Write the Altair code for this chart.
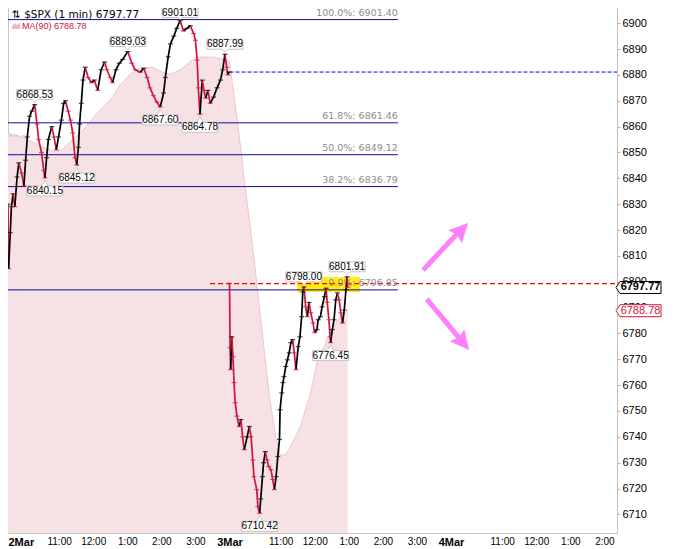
import altair as alt
import pandas as pd

# ---------------- data ----------------
D1_TIMES = ["09:30","09:31","09:34","09:36","09:39","09:42","09:46","09:49","09:54","09:58",
            "10:01","10:04","10:08","10:12","10:17","10:21","10:24","10:29","10:33","10:35",
            "10:38","10:41","10:47","10:51","10:55","10:59","11:04","11:08","11:11","11:16",
            "11:20","11:24","11:28","11:31","11:34","11:36","11:39","11:42","11:46","11:51",
            "11:57","12:02","12:08","12:14","12:20","12:24","12:30","12:34","12:40","12:46",
            "12:52","13:01","13:08","13:14","13:23","13:29","13:35","13:40","13:46","13:52",
            "13:58","14:04","14:07","14:12","14:16","14:22","14:27","14:33","14:39","14:45",
            "14:51","14:57","15:00","15:03","15:05","15:08","15:12","15:15","15:18","15:22",
            "15:26","15:32","15:38","15:44","15:48","15:52","15:55","15:57","15:59"]
D1_PRICES = [6830.0,6805.0,6819.0,6829.0,6834.0,6829.0,6840.5,6846.0,6842.0,6837.0,
             6847.0,6856.0,6864.0,6866.0,6868.53,6861.0,6855.0,6850.0,6843.0,6840.15,
             6848.0,6855.0,6860.0,6856.0,6851.0,6856.0,6862.5,6869.0,6870.0,6866.0,
             6862.5,6857.5,6848.0,6845.12,6852.0,6861.0,6869.0,6878.0,6883.0,6879.0,
             6877.0,6878.0,6874.0,6882.0,6885.0,6882.0,6879.0,6877.0,6882.0,6884.5,
             6886.0,6889.03,6884.5,6882.0,6881.0,6882.6,6879.0,6875.0,6872.0,6869.5,
             6867.60,6873.0,6879.0,6887.0,6892.0,6895.0,6898.0,6901.01,6897.0,6898.0,
             6899.0,6896.0,6893.4,6885.7,6875.0,6864.78,6878.0,6874.0,6871.0,6874.0,
             6869.0,6871.4,6875.0,6878.0,6882.0,6887.99,6883.0,6880.0,6881.1]

D2_TIMES = ["09:30","09:31","09:32","09:34","09:36","09:38","09:40","09:43","09:47","09:50",
            "09:53","09:56","10:01","10:05","10:08","10:11","10:13","10:18","10:20","10:23",
            "10:25","10:28","10:30","10:33","10:36","10:39","10:43","10:46","10:49","10:52",
            "10:55","10:58","10:59","11:02","11:04","11:06","11:09","11:12","11:15","11:18",
            "11:21","11:24","11:27","11:31","11:34","11:37","11:39","11:41","11:44","11:47",
            "11:50","11:53","11:57","12:00","12:04","12:06","12:10","12:13","12:17","12:20",
            "12:22","12:25","12:27","12:28","12:31","12:34","12:37","12:40","12:43","12:46",
            "12:49","12:52","12:55","12:57","12:58"]
D2_PRICES = [6799.4,6774.5,6766.0,6778.7,6771.0,6761.0,6753.2,6748.0,6744.0,6746.7,
             6740.0,6735.0,6740.0,6744.0,6740.0,6731.0,6724.6,6719.6,6713.0,6710.42,
             6716.0,6724.6,6730.0,6734.3,6731.0,6728.5,6727.3,6723.5,6719.6,6724.6,
             6732.4,6739.0,6750.5,6757.0,6761.0,6763.3,6767.2,6769.8,6772.5,6776.4,
             6777.6,6772.5,6766.0,6774.9,6778.7,6786.5,6796.0,6798.00,6790.3,6786.5,
             6792.0,6788.0,6784.0,6780.3,6781.5,6785.3,6786.5,6790.3,6794.2,6797.5,
             6792.0,6785.3,6778.7,6776.45,6781.5,6785.3,6793.0,6795.7,6793.0,6788.0,
             6784.0,6789.0,6796.9,6801.91,6797.77]

MA_D1_TIMES = ["09:30","10:00","10:26","10:53","11:05","11:19","11:37","11:54","12:12","12:30",
               "12:47","13:05","13:22","13:45","14:01","14:15","14:33","14:50","15:03","15:31",
               "15:55","15:59"]
MA_D1_VALUES = [6857.5,6855.6,6852.5,6850.2,6851.0,6854.0,6857.5,6861.8,6866.4,6870.3,
                6876.0,6880.3,6882.6,6883.0,6881.0,6880.3,6881.8,6885.0,6886.9,6886.9,
                6885.7,6885.5]
MA_D2_TIMES = ["09:30","09:36","09:48","09:57","10:06","10:15","10:27","10:41","10:52","10:59",
               "11:08","11:17","11:34","11:52","12:04","12:18","12:32","12:44","12:58"]
MA_D2_VALUES = [6885.0,6875.0,6855.0,6837.4,6822.0,6805.4,6781.4,6754.4,6739.0,6733.0,
                6733.0,6736.0,6743.6,6756.3,6768.7,6775.6,6782.6,6786.0,6788.78]

EXT_DAY = [1, 1, 1, 1, 2, 2, 1, 1, 1, 1, 2, 2]
EXT_TIME = ["10:17","13:01","14:33","15:52","11:41","12:57",
            "10:35","11:31","13:58","15:08","10:23","12:28"]
EXT_PRICE = [6868.53, 6889.03, 6901.01, 6887.99, 6798.00, 6801.91,
             6840.15, 6845.12, 6867.60, 6864.78, 6710.42, 6776.45]
EXT_KIND = ["high", "high", "top", "high", "high", "high"] + ["low"] * 6

FIB_PCT = ["100.0%", "61.8%", "50.0%", "38.2%", "0.0%"]
FIB_LEVEL = [6901.40, 6861.46, 6849.12, 6836.79, 6796.85]

PREV_CLOSE = 6881.1
RESIST = 6799.3
OLD_MA = 6856.4
LAST = 6797.77
MA_LAST = 6788.78

Y_TICKS = [6710, 6720, 6730, 6740, 6750, 6760, 6770, 6780, 6790, 6800,
           6810, 6820, 6830, 6840, 6850, 6860, 6870, 6880, 6890, 6900]
TICK_VALUES = [0, 1.5, 2.5, 3.5, 4.5, 5.5, 6.5, 8, 9, 10, 11, 12, 13, 14.5, 15.5, 16.5, 17.5]
TICK_LABELS = ["2Mar", "11:00", "12:00", "1:00", "2:00", "3:00", "3Mar", "11:00", "12:00",
               "1:00", "2:00", "3:00", "4Mar", "11:00", "12:00", "1:00", "2:00"]

# ---------------- layout constants ----------------
X_DOM = [0, 17.87]
Y_DOM = [6702.8, 6908.2]
FIB_END = 11.44
RED_START = 5.93
YELLOW = dict(x=8.48, x2=10.33, y=6796.0, y2=6801.8)
ARROWS = [  # shaft start, shaft end, tip, angle
    dict(x=12.18, y=6804.5, x2=13.19, y2=6818.7, tx=13.50, ty=6822.7, angle=43.8),
    dict(x=12.29, y=6793.3, x2=13.25, y2=6778.1, tx=13.53, ty=6773.6, angle=140.5),
]
RED = "#d2143c"


def hrs(day, t):
    hh, mm = (int(v) for v in t.split(":"))
    return (day - 1) * 6.5 + (hh * 60 + mm - 570) / 60.0


seg_rows, pt_rows = [], []
for day, times, prices in ((1, D1_TIMES, D1_PRICES), (2, D2_TIMES, D2_PRICES)):
    hs = [hrs(day, t) for t in times]
    for i in range(len(hs)):
        if i == 0:
            d = "down" if day == 2 else "up"
            pt_rows.append(dict(h=hs[i], p=prices[i], dir=d))
            continue
        d = "up" if prices[i] >= prices[i - 1] else "down"
        seg_rows.append(dict(h=hs[i - 1], p=prices[i - 1], h2=hs[i], p2=prices[i], dir=d))
        pt_rows.append(dict(h=hs[i], p=prices[i], dir=d))
seg_df = pd.DataFrame(seg_rows)
pt_df = pd.DataFrame(pt_rows)

ma_df = pd.DataFrame(
    [dict(h=hrs(1, t), ma=v, base=Y_DOM[0]) for t, v in zip(MA_D1_TIMES, MA_D1_VALUES)]
    + [dict(h=hrs(2, t), ma=v, base=Y_DOM[0]) for t, v in zip(MA_D2_TIMES, MA_D2_VALUES)]
)

ext_df = pd.DataFrame(dict(
    h=[hrs(d, t) for d, t in zip(EXT_DAY, EXT_TIME)],
    p=EXT_PRICE,
    kind=EXT_KIND,
    label=[f"{v:.2f}" for v in EXT_PRICE],
))

fib_df = pd.DataFrame(dict(
    level=FIB_LEVEL,
    x0=[0.0] * len(FIB_LEVEL),
    x1=[FIB_END] * len(FIB_LEVEL),
    label=[f"{p}: {v:.2f}" for p, v in zip(FIB_PCT, FIB_LEVEL)],
))

xs = alt.Scale(domain=X_DOM, nice=False, zero=False)
ys = alt.Scale(domain=Y_DOM, nice=False, zero=False)

label_expr = ("[" + ",".join(f"'{l}'" for l in TICK_LABELS) + "][indexof(["
              + ",".join(str(v) for v in TICK_VALUES) + "], datum.value)]")
day_test = "datum.value == 0 || datum.value == 6.5 || datum.value == 13"

x_axis = alt.Axis(
    values=TICK_VALUES, labelExpr=label_expr, ticks=False, domain=False, grid=False,
    labelFont="Liberation Sans", labelColor="#000000", labelPadding=3,
    labelFontSize={"condition": {"test": day_test, "value": 11}, "value": 10},
    labelFontWeight={"condition": {"test": day_test, "value": "bold"}, "value": "normal"},
    labelOverlap=False, title=None,
)
y_axis = alt.Axis(
    orient="right", values=Y_TICKS, format="d", grid=False, title=None,
    labelFont="Liberation Sans", labelFontSize=11, labelColor="#000000", labelPadding=2,
    tickSize=3, tickColor="#b4b4b4", domainColor="#b4b4b4", domainDash=[1, 2],
    labelOverlap=False,
)


def X(field):
    return alt.X(field, type="quantitative", scale=xs, axis=x_axis)


def Y(field):
    return alt.Y(field, type="quantitative", scale=ys, axis=y_axis)


# MA(90) shaded area and edge
area = alt.Chart(ma_df).mark_area(color="#f6e2e4").encode(
    x=X("h"), y=Y("ma"), y2="base:Q")
ma_line = alt.Chart(ma_df).mark_line(color="#eec6cc", strokeWidth=1).encode(
    x=X("h"), y=Y("ma"))

yellow = alt.Chart(pd.DataFrame([YELLOW])).mark_rect(color="#ffea00", opacity=0.9).encode(
    x=X("x"), x2="x2:Q", y=Y("y"), y2="y2:Q")

fib_lines = alt.Chart(fib_df).mark_rule(color="#0c0ca8", strokeWidth=1).encode(
    x=X("x0"), x2="x1:Q", y=Y("level"))
fib_text = alt.Chart(fib_df).mark_text(
    align="right", baseline="middle", dy=-7, font="DejaVu Sans", fontSize=9.5,
    color="#8c8c8c").encode(x=X("x1"), y=Y("level"), text="label:N")

prev_line = alt.Chart(pd.DataFrame([dict(x=6.5, x2=X_DOM[1], y=PREV_CLOSE)])).mark_rule(
    color="#0000ff", strokeDash=[4, 2], strokeWidth=1).encode(x=X("x"), x2="x2:Q", y=Y("y"))
red_line = alt.Chart(pd.DataFrame([dict(x=RED_START, x2=X_DOM[1], y=RESIST)])).mark_rule(
    color="#ff0000", stroke="#ff0000", strokeDash=[5, 3], strokeWidth=1.2).encode(
    x=X("x"), x2="x2:Q", y=Y("y"))
old_ma = alt.Chart(pd.DataFrame([dict(x=0.0, x2=0.5, y=OLD_MA)])).mark_rule(
    color="#bdbdbd", strokeDash=[4, 3], strokeWidth=1).encode(x=X("x"), x2="x2:Q", y=Y("y"))

color = alt.Color("dir:N", scale=alt.Scale(domain=["up", "down"], range=["#000000", RED]),
                  legend=None)
segs = alt.Chart(seg_df).mark_rule(strokeWidth=1.7).encode(
    x=X("h"), x2="h2:Q", y=Y("p"), y2="p2:Q", color=color)
ticks = alt.Chart(pt_df).mark_tick(orient="horizontal", size=5, thickness=1.2).encode(
    x=X("h"), y=Y("p"), color=color)

HIGH_BOX = "M0,-2 L3,-5 L18,-5 L18,-15 L-18,-15 L-18,-5 L-3,-5 Z"
TOP_BOX = "M0,-1 L2,-3 L18,-3 L18,-13 L-18,-13 L-18,-3 L-2,-3 Z"
LOW_BOX = "M0,2 L3,8 L18,8 L18,18 L-18,18 L-18,8 L-3,8 Z"
box_layers = []
for kind, path, dy in (("high", HIGH_BOX, -10), ("top", TOP_BOX, -8), ("low", LOW_BOX, 13)):
    base = alt.Chart(ext_df).transform_filter(alt.datum.kind == kind)
    box_layers.append(base.mark_point(shape=path, size=4, filled=True, fill="#ffffff",
                                      stroke="#c4c4c4", strokeWidth=1, opacity=1).encode(
        x=X("h"), y=Y("p")))
    box_layers.append(base.mark_text(font="Liberation Sans", fontSize=10, color="#000000",
                                     dy=dy, baseline="middle").encode(
        x=X("h"), y=Y("p"), text="label:N"))

arrow_df = pd.DataFrame(ARROWS)
shafts = alt.Chart(arrow_df).mark_rule(color="#ff80ff", strokeWidth=5, strokeCap="butt").encode(
    x=X("x"), x2="x2:Q", y=Y("y"), y2="y2:Q")
heads = alt.Chart(arrow_df).mark_point(
    shape="M0,0 L9.5,19 L0,16 L-9.5,19 Z", size=4, filled=True, color="#ff80ff",
    opacity=1).encode(x=X("tx"), y=Y("ty"), angle=alt.Angle("angle:Q", scale=None))

VAL_BOX = "M-1,0 L3,-6 L44,-6 L44,6 L3,6 Z"
val_df = pd.DataFrame(dict(h=[X_DOM[1], X_DOM[1]], p=[LAST, MA_LAST],
                           label=[f"{LAST:.2f}", f"{MA_LAST:.2f}"],
                           kind=["last", "ma"]))
val_boxes = alt.Chart(val_df).mark_point(shape=VAL_BOX, size=4, filled=True, fill="#ffffff",
                                         strokeWidth=1, opacity=1).encode(
    x=X("h"), y=Y("p"),
    stroke=alt.Stroke("kind:N", scale=alt.Scale(domain=["last", "ma"], range=["#000000", RED]),
                      legend=None))
val_last = alt.Chart(val_df).transform_filter(alt.datum.kind == "last").mark_text(
    font="Liberation Sans", fontSize=11, fontWeight="bold", color="#000000", dx=23.5,
    baseline="middle").encode(x=X("h"), y=Y("p"), text="label:N")
val_ma = alt.Chart(val_df).transform_filter(alt.datum.kind == "ma").mark_text(
    font="Liberation Sans", fontSize=11, color=RED, dx=23.5,
    baseline="middle").encode(x=X("h"), y=Y("p"), text="label:N")

title = alt.Chart(pd.DataFrame(dict(t=[f"\u21c5 $SPX (1 min) {LAST:.2f}"]))).mark_text(
    align="left", baseline="middle", font="DejaVu Sans", fontSize=10.5, color="#000000").encode(
    x=alt.value(4), y=alt.value(12.5), text="t:N")
legend_icon = alt.Chart(pd.DataFrame(dict(k=[1]))).mark_point(
    shape="M-4,3 L-4,0 L-1,-3 L1,-1 L4,-3 L4,3 Z", size=4, filled=True, color="#f0b4c0",
    opacity=1).encode(x=alt.value(8), y=alt.value(24))
legend_text = alt.Chart(pd.DataFrame(dict(t=[f"MA(90) {MA_LAST:.2f}"]))).mark_text(
    align="left", baseline="middle", font="Liberation Sans", fontSize=9, color=RED).encode(
    x=alt.value(14), y=alt.value(24), text="t:N")

chart = alt.layer(
    area, ma_line, yellow, fib_lines, old_ma, prev_line, red_line, fib_text,
    segs, ticks, *box_layers, shafts, heads, val_boxes, val_last, val_ma,
    title, legend_icon, legend_text,
).properties(
    width=609, height=531,
    autosize=alt.AutoSizeParams(type="none"),
    padding={"left": 0, "top": -6, "right": 52, "bottom": 13},
    background="#ffffff",
).configure_view(stroke="#c8c8c8", strokeWidth=1)

chart.save("out.html", embed_options={"renderer": "svg", "actions": False})
